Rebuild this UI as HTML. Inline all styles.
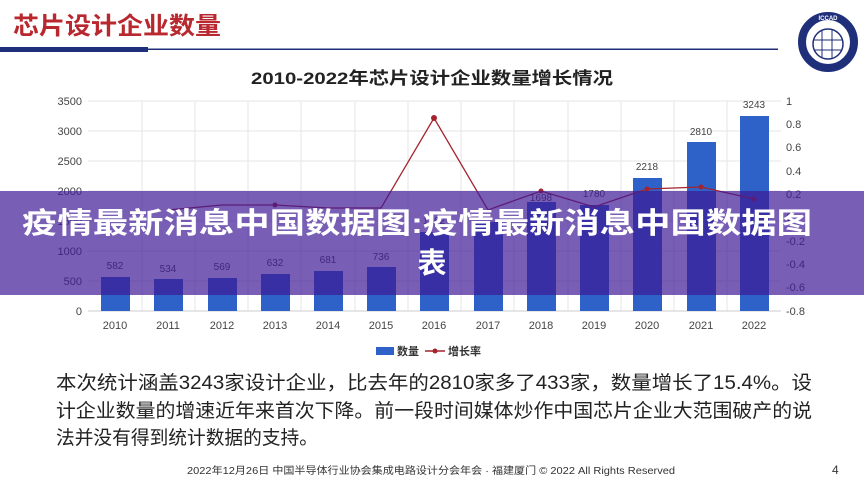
<!DOCTYPE html>
<html><head><meta charset="utf-8"><style>
body{margin:0;width:864px;height:486px;overflow:hidden;background:#fff;}
svg{display:block;font-family:"Liberation Sans","Noto Sans CJK SC",sans-serif;}
</style></head><body>
<svg width="864" height="486" viewBox="0 0 864 486">
<text x="13" y="34" font-size="24" font-weight="bold" fill="#b8282e" textLength="208" lengthAdjust="spacingAndGlyphs">芯片设计企业数量</text>
<rect x="0" y="47" width="148" height="5" fill="#1f2f7a"/>
<rect x="148" y="48.5" width="630" height="1.5" fill="#1f2f7a"/>
<circle cx="828" cy="42" r="26" fill="#fff" stroke="#1f2f7a" stroke-width="8"/>
<circle cx="828" cy="44" r="15" fill="#fff" stroke="#1f2f7a" stroke-width="1.5"/>
<g stroke="#1f2f7a" stroke-width="1"><line x1="822" y1="30" x2="822" y2="58"/><line x1="832" y1="30" x2="832" y2="58"/><line x1="814" y1="40" x2="842" y2="40"/><line x1="814" y1="50" x2="842" y2="50"/></g>
<text x="828" y="20" font-size="6" fill="#fff" text-anchor="middle" font-weight="bold">ICCAD</text>
<text x="432" y="84" font-size="17" font-weight="bold" fill="#222" text-anchor="middle" textLength="362" lengthAdjust="spacingAndGlyphs">2010-2022年芯片设计企业数量增长情况</text>
<g stroke="#e6e6e6" stroke-width="1">
<line x1="88" y1="101" x2="781" y2="101"/><line x1="88" y1="131" x2="781" y2="131"/><line x1="88" y1="161" x2="781" y2="161"/><line x1="88" y1="191" x2="781" y2="191"/><line x1="88" y1="221" x2="781" y2="221"/><line x1="88" y1="251" x2="781" y2="251"/><line x1="88" y1="281" x2="781" y2="281"/>
<line x1="142" y1="101" x2="142" y2="311"/><line x1="195" y1="101" x2="195" y2="311"/><line x1="248" y1="101" x2="248" y2="311"/><line x1="301" y1="101" x2="301" y2="311"/><line x1="355" y1="101" x2="355" y2="311"/><line x1="408" y1="101" x2="408" y2="311"/><line x1="461" y1="101" x2="461" y2="311"/><line x1="514" y1="101" x2="514" y2="311"/><line x1="568" y1="101" x2="568" y2="311"/><line x1="621" y1="101" x2="621" y2="311"/><line x1="674" y1="101" x2="674" y2="311"/><line x1="727" y1="101" x2="727" y2="311"/>
</g>
<line x1="88" y1="311" x2="781" y2="311" stroke="#ccc"/>
<g font-size="11" fill="#444" text-anchor="end">
<text x="82" y="105">3500</text><text x="82" y="135">3000</text><text x="82" y="165">2500</text><text x="82" y="195">2000</text><text x="82" y="225">1500</text><text x="82" y="255">1000</text><text x="82" y="285">500</text><text x="82" y="315">0</text>
</g>
<g font-size="11" fill="#444">
<text x="786" y="105">1</text><text x="786" y="128">0.8</text><text x="786" y="151">0.6</text><text x="786" y="175">0.4</text><text x="786" y="198">0.2</text><text x="786" y="221">0</text><text x="786" y="245">-0.2</text><text x="786" y="268">-0.4</text><text x="786" y="291">-0.6</text><text x="786" y="315">-0.8</text>
</g>
<g fill="#2e62c9">
<rect x="101" y="277" width="29" height="34"/><rect x="154" y="279" width="29" height="32"/><rect x="208" y="278" width="29" height="33"/><rect x="261" y="274" width="29" height="37"/><rect x="314" y="271" width="29" height="40"/><rect x="367" y="267" width="29" height="44"/><rect x="420" y="232" width="29" height="79"/><rect x="474" y="222" width="29" height="89"/><rect x="527" y="202" width="29" height="109"/><rect x="580" y="205" width="29" height="106"/><rect x="633" y="178" width="29" height="133"/><rect x="687" y="142" width="29" height="169"/><rect x="740" y="116" width="29" height="195"/>
</g>
<g font-size="10" fill="#444" text-anchor="middle">
<text x="115" y="269">582</text><text x="168" y="272">534</text><text x="222" y="270">569</text><text x="275" y="266">632</text><text x="328" y="263">681</text><text x="381" y="260">736</text><text x="434" y="224">1362</text><text x="541" y="201">1698</text><text x="594" y="197">1780</text><text x="647" y="170">2218</text><text x="701" y="135">2810</text><text x="754" y="108">3243</text>
</g>
<polyline points="168,210 222,205 275,205 328,208 381,208 434,118 488,210 541,191 594,207 647,189 701,187 754,199" fill="none" stroke="#a3232e" stroke-width="1.3"/>
<g fill="#a3232e"><circle cx="275" cy="205" r="2.5"/><circle cx="434" cy="118" r="3"/><circle cx="541" cy="191" r="2.5"/><circle cx="647" cy="189" r="2.5"/><circle cx="701" cy="187" r="2.5"/><circle cx="754" cy="199" r="2.5"/></g>
<g font-size="11" fill="#444" text-anchor="middle">
<text x="115" y="329">2010</text><text x="168" y="329">2011</text><text x="222" y="329">2012</text><text x="275" y="329">2013</text><text x="328" y="329">2014</text><text x="381" y="329">2015</text><text x="434" y="329">2016</text><text x="488" y="329">2017</text><text x="541" y="329">2018</text><text x="594" y="329">2019</text><text x="647" y="329">2020</text><text x="701" y="329">2021</text><text x="754" y="329">2022</text>
</g>
<rect x="376" y="347" width="18" height="8" fill="#2e62c9"/>
<text x="397" y="355" font-size="11" font-weight="bold" fill="#333">数量</text>
<line x1="425" y1="351" x2="445" y2="351" stroke="#a3232e" stroke-width="1.5"/><circle cx="435" cy="351" r="2.5" fill="#a3232e"/>
<text x="448" y="355" font-size="11" font-weight="bold" fill="#333">增长率</text>
<rect x="0" y="191" width="864" height="104" fill="rgb(62,25,150)" fill-opacity="0.7"/>
<text x="22" y="233" font-size="29" font-weight="bold" fill="#fff" textLength="790" lengthAdjust="spacingAndGlyphs">疫情最新消息中国数据图:疫情最新消息中国数据图</text>
<text x="432" y="273" font-size="29" font-weight="bold" fill="#fff" text-anchor="middle">表</text>
<g font-size="19" fill="#222">
<text x="56" y="389" textLength="756" lengthAdjust="spacingAndGlyphs">本次统计涵盖3243家设计企业，比去年的2810家多了433家，数量增长了15.4%。设</text>
<text x="56" y="417" textLength="756" lengthAdjust="spacingAndGlyphs">计企业数量的增速近年来首次下降。前一段时间媒体炒作中国芯片企业大范围破产的说</text>
<text x="56" y="444" textLength="262" lengthAdjust="spacingAndGlyphs">法并没有得到统计数据的支持。</text>
</g>
<text x="431" y="474" font-size="10" fill="#333" text-anchor="middle" textLength="488" lengthAdjust="spacingAndGlyphs">2022年12月26日 中国半导体行业协会集成电路设计分会年会 · 福建厦门 © 2022 All Rights Reserved</text>
<text x="832" y="474" font-size="12" fill="#333">4</text>
</svg>
</body></html>
